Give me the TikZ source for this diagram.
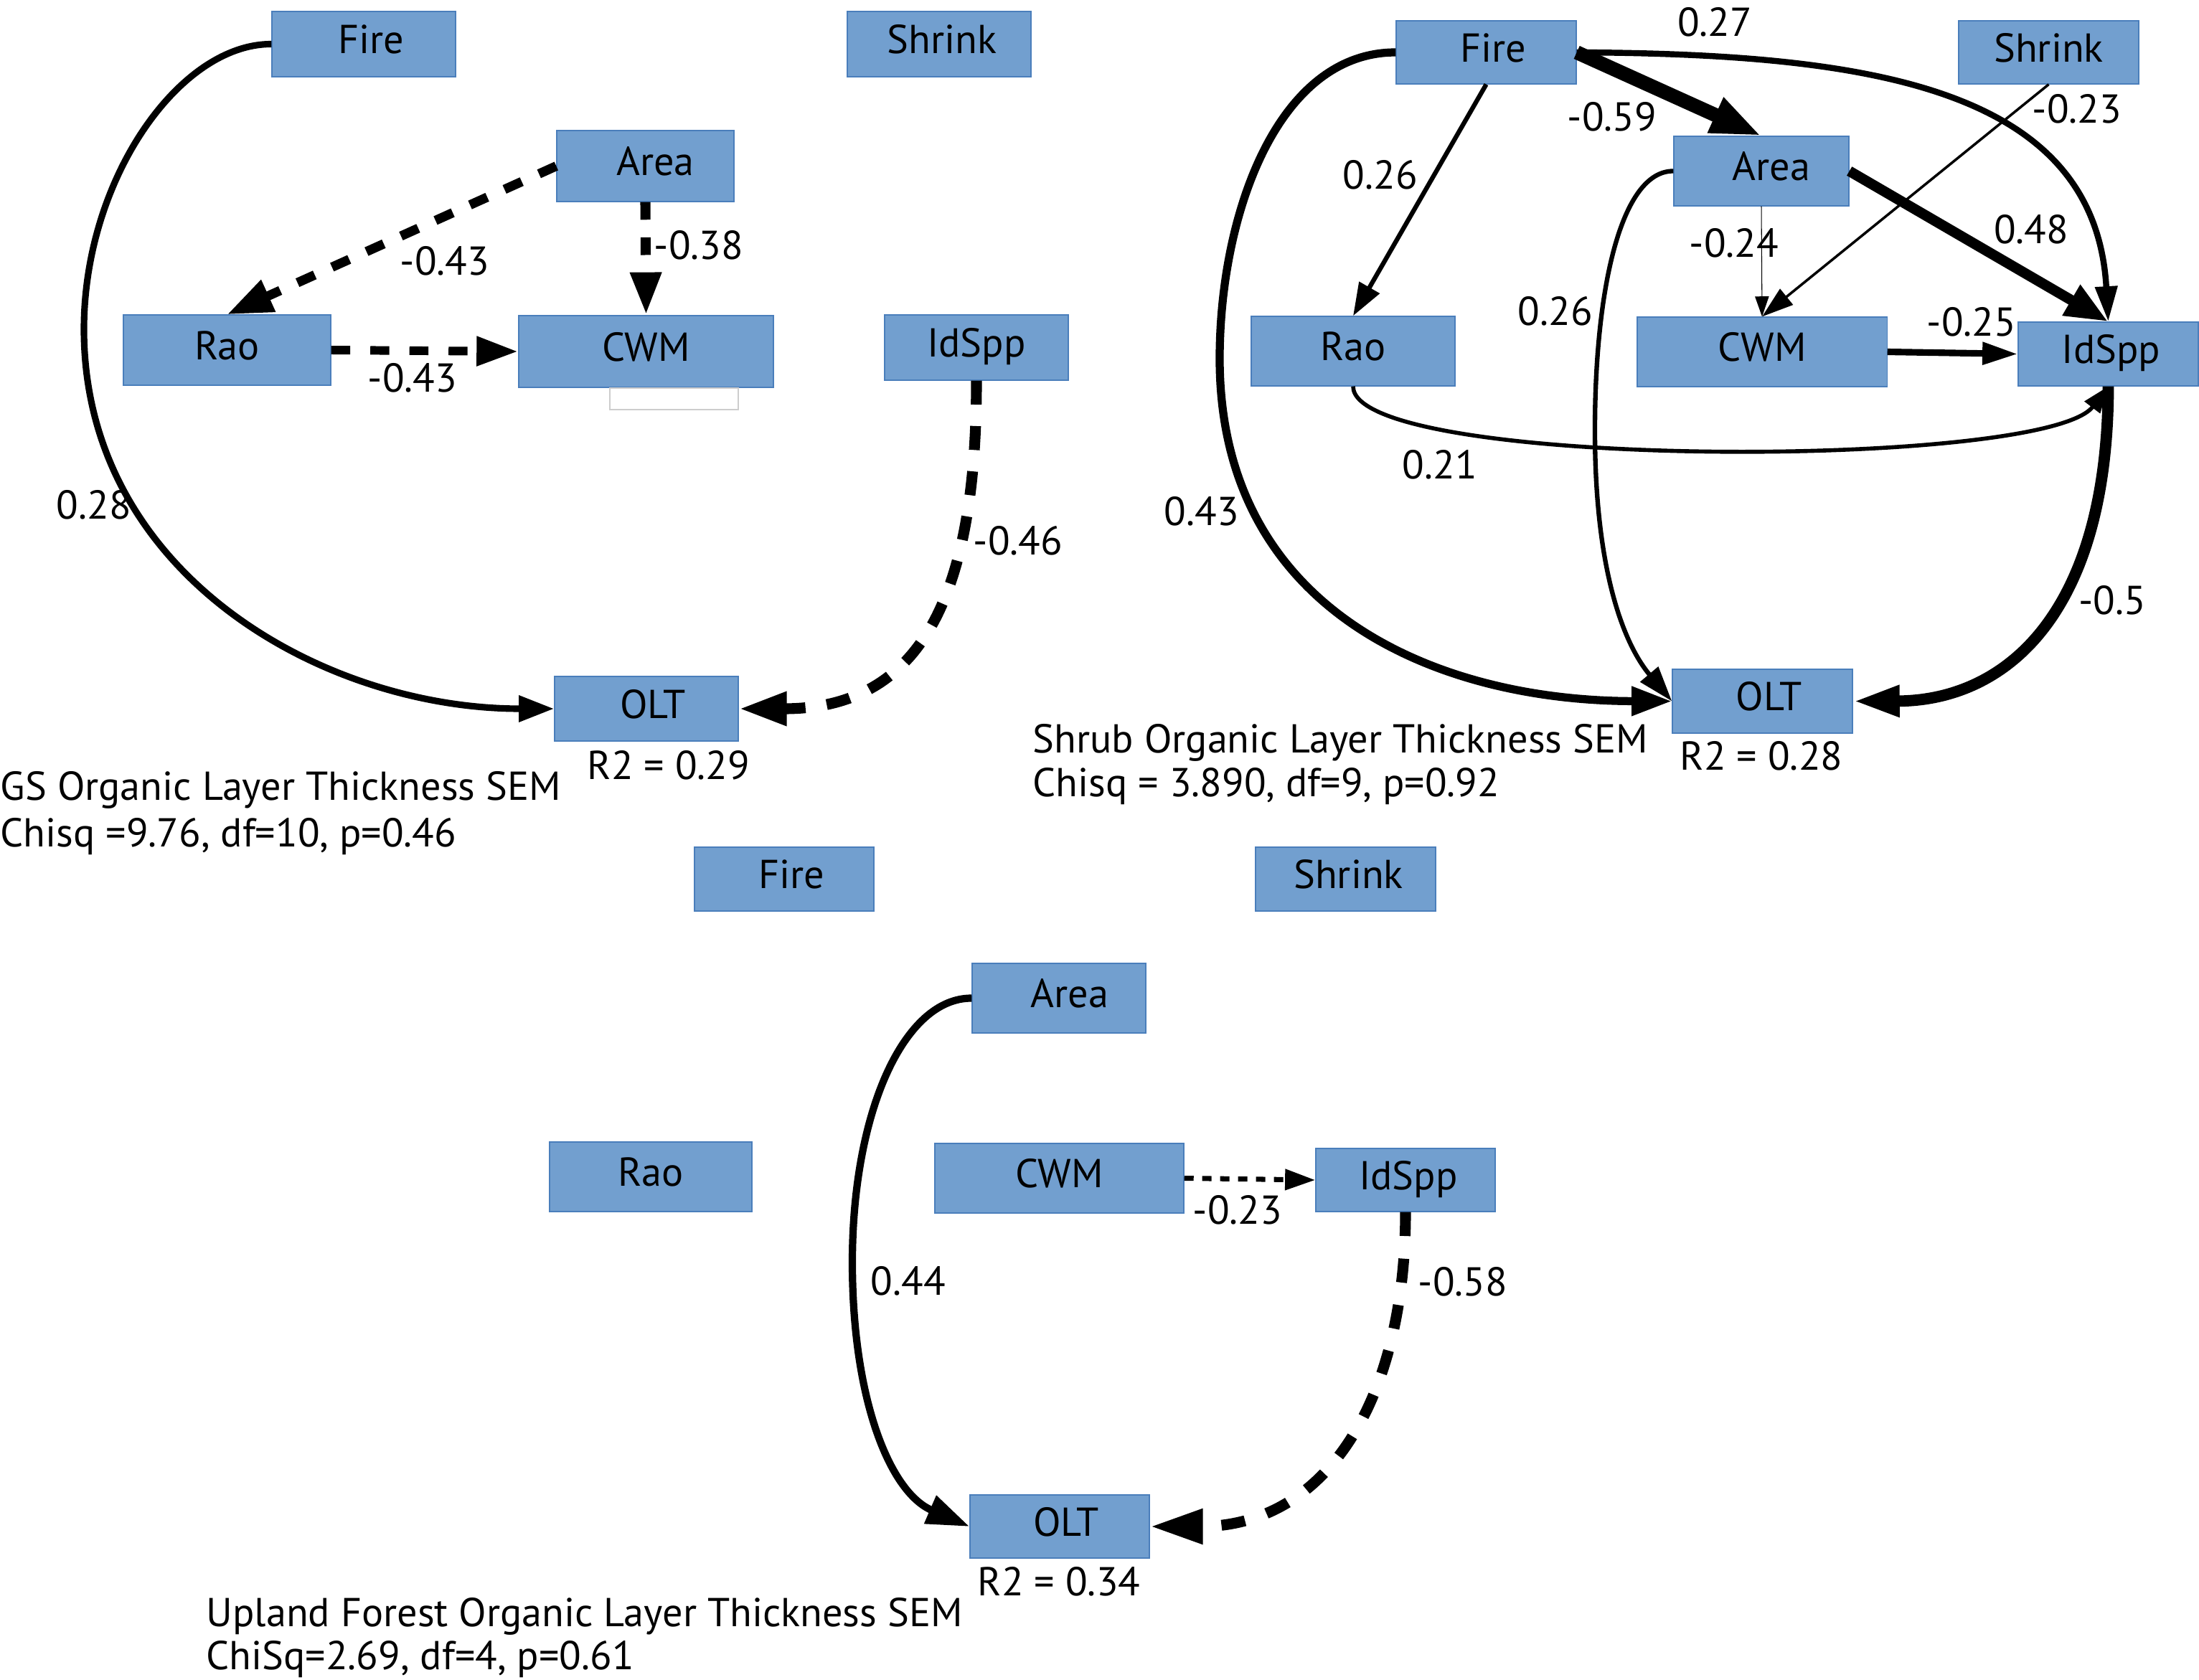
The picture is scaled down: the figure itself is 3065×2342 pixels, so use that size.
\documentclass[tikz,border=0pt]{standalone}
\usepackage{fontspec}
\setmainfont{PT Sans}
\usetikzlibrary{arrows.meta}
\definecolor{boxfill}{RGB}{114,159,207}
\definecolor{boxline}{RGB}{74,126,187}
\definecolor{ghost}{RGB}{205,205,205}
\begin{document}
\begin{tikzpicture}[x=0.01cm,y=-0.01cm,
  font=\fontsize{16pt}{19pt}\selectfont,
  box/.style={draw=boxline, fill=boxfill, line width=0.35pt, inner sep=0pt, text height=0.76em, text depth=0pt},
  tx/.style={execute at begin node={\hspace*{#1}}},
  lbl/.style={inner sep=0pt, text height=0.7em, text depth=0pt, yshift=-0.07cm},
  ttl/.style={lbl, anchor=west},
  tip/.style 2 args={-{Triangle[length=#1pt,width=#2pt]}},
  dsh/.style 2 args={dash pattern=on #1pt off #2pt},
  line cap=butt]
\useasboundingbox (0,0) rectangle (3065,2342);

% ---------------- Panel 1 : GS ----------------
\node[box, tx=0.2cm, minimum width=2.56cm, minimum height=0.91cm] (F1) at (507,61.5) {Fire};
\node[box, tx=0.08cm, minimum width=2.56cm, minimum height=0.91cm] (S1) at (1309,61.5) {Shrink};
\node[box, tx=0.28cm, minimum width=2.47cm, minimum height=0.99cm] (A1) at (899.5,231.5) {Area};
\node[box, minimum width=2.89cm, minimum height=0.98cm] (R1) at (316.5,488) {Rao};
\node[box, minimum width=3.55cm, minimum height=1.00cm] (C1) at (900.5,490) {CWM};
\node[draw=ghost, fill=white, line width=0.4pt, inner sep=0pt, minimum width=1.79cm, minimum height=0.30cm] (G1) at (939.5,556) {};
\node[box, minimum width=2.56cm, minimum height=0.91cm] (I1) at (1361,484.5) {IdSpp};
\node[box, tx=0.18cm, minimum width=2.56cm, minimum height=0.90cm] (O1) at (901,988) {OLT};
\node[lbl] (O1r) at (932,1067) {R2 = 0.29};

\draw[line width=2.6pt, tip={14}{10}] (F1.west) .. controls (250,61) and (117,250) .. (117,459)
  .. controls (117,800) and (450,988) .. (O1.west);
\draw[line width=3.7pt, dsh={7.5}{7.5}, tip={18}{13}] (A1.west) -- (R1.north);
\draw[line width=4pt, dsh={7}{7}, tip={17}{11.5}] (A1.south) -- (C1.north);
\draw[line width=3.4pt, dsh={7.5}{8}, tip={16.5}{11}] (R1.east) -- (C1.west);
\draw[line width=4.3pt, dsh={9.5}{8.5}, tip={19}{12.5}] (I1.south) .. controls (1361,820) and (1290,988) .. (O1.east);

\node[lbl] (l1a) at (131,704) {0.28};
\node[lbl] (l1b) at (620,364) {-0.43};
\node[lbl] (l1c) at (974,342) {-0.38};
\node[lbl] (l1d) at (575,527) {-0.43};
\node[lbl] (l1e) at (1419,754) {-0.46};

\node[ttl] (t1a) at (0,1096) {GS Organic Layer Thickness SEM};
\node[ttl] (t1b) at (0,1161) {Chisq =9.76, df=10, p=0.46};

% ---------------- Panel 2 : Shrub ----------------
\node[box, tx=0.2cm, minimum width=2.51cm, minimum height=0.88cm] (F2) at (2071.5,73) {Fire};
\node[box, minimum width=2.51cm, minimum height=0.88cm] (S2) at (2855.5,73) {Shrink};
\node[box, tx=0.28cm, minimum width=2.44cm, minimum height=0.97cm] (A2) at (2455,238.5) {Area};
\node[box, minimum width=2.84cm, minimum height=0.97cm] (R2) at (1886,489.5) {Rao};
\node[box, minimum width=3.48cm, minimum height=0.97cm] (C2) at (2456,490.5) {CWM};
\node[box, tx=0.08cm, minimum width=2.51cm, minimum height=0.89cm] (I2) at (2938.5,493.5) {IdSpp};
\node[box, tx=0.18cm, minimum width=2.51cm, minimum height=0.89cm] (O2) at (2456.5,977.5) {OLT};
\node[lbl] (O2r) at (2455,1054) {R2 = 0.28};

\draw[line width=5.6pt, tip={20}{14}] (F2.east) -- (A2.north);
\draw[line width=2.4pt, tip={14}{8.5}] (F2.east) .. controls (2600,75) and (2920,120) .. (I2.north);
\draw[line width=1.8pt, tip={13}{9}] (F2.south) -- (R2.north);
\draw[line width=3.2pt, tip={16}{11}] (F2.west) .. controls (1780,73) and (1700,300) .. (1700,500)
  .. controls (1700,850) and (2000,977) .. (O2.west);
\draw[line width=1pt, tip={12.5}{8}] (S2.south) -- (C2.north);
\draw[line width=0.3pt, tip={8}{5.5}] (A2.south) -- (C2.north);
\draw[line width=4.1pt, tip={17}{13}] (A2.east) -- (I2.north);
\draw[line width=1.8pt, tip={14}{9}] (A2.west) .. controls (2260,238) and (2223,400) .. (2223,600)
  .. controls (2223,800) and (2265,900) .. (O2.west);
\draw[line width=2.6pt, tip={14}{8.5}] (C2.east) -- (I2.west);
\draw[line width=1.6pt, tip={10.5}{7.5}] (R2.south) .. controls (1886,655) and (2850,655) .. (I2.south);
\draw[line width=4.5pt, tip={18.5}{11.5}] (I2.south) .. controls (2938,850) and (2800,977) .. (O2.east);

\node[lbl] (l2a) at (2390,31) {0.27};
\node[lbl] (l2b) at (2247,163) {-0.59};
\node[lbl] (l2c) at (2895,152) {-0.23};
\node[lbl] (l2d) at (1924,244) {0.26};
\node[lbl] (l2e) at (2831,320) {0.48};
\node[lbl] (l2f) at (2417,339) {-0.24};
\node[lbl] (l2g) at (2168,434) {0.26};
\node[lbl] (l2h) at (2748,449) {-0.25};
\node[lbl] (l2i) at (2007,648) {0.21};
\node[lbl] (l2j) at (1675,713) {0.43};
\node[lbl] (l2k) at (2944,837) {-0.5};

\node[ttl] (t2a) at (1439,1030) {Shrub Organic Layer Thickness SEM};
\node[ttl] (t2b) at (1439,1091) {Chisq = 3.890, df=9, p=0.92};

% ---------------- Panel 3 : Upland ----------------
\node[box, tx=0.2cm, minimum width=2.50cm, minimum height=0.89cm] (F3) at (1093,1225.5) {Fire};
\node[box, tx=0.08cm, minimum width=2.51cm, minimum height=0.89cm] (S3) at (1875.5,1225.5) {Shrink};
\node[box, tx=0.3cm, minimum width=2.42cm, minimum height=0.97cm] (A3) at (1476,1391.5) {Area};
\node[box, minimum width=2.82cm, minimum height=0.97cm] (R3) at (907,1640.5) {Rao};
\node[box, minimum width=3.47cm, minimum height=0.97cm] (C3) at (1476.5,1642.5) {CWM};
\node[box, tx=0.08cm, minimum width=2.50cm, minimum height=0.88cm] (I3) at (1959,1645) {IdSpp};
\node[box, tx=0.18cm, minimum width=2.50cm, minimum height=0.88cm] (O3) at (1477,2128) {OLT};
\node[lbl] (O3r) at (1476,2205) {R2 = 0.34};

\draw[line width=2.9pt, tip={17}{11.5}] (A3.west) .. controls (1260,1391) and (1188,1550) .. (1188,1760)
  .. controls (1188,1950) and (1240,2080) .. (O3.west);
\draw[line width=2pt, dsh={3.7}{3.4}, tip={12}{8}] (C3.east) -- (I3.west);
\draw[line width=4.3pt, dsh={9.5}{9}, tip={21}{13}] (I3.south) .. controls (1959,1950) and (1850,2128) .. (O3.east);

\node[lbl] (l3a) at (1725,1687) {-0.23};
\node[lbl] (l3b) at (1266,1786) {0.44};
\node[lbl] (l3c) at (2039,1787) {-0.58};

\node[ttl] (t3a) at (287,2248) {Upland Forest Organic Layer Thickness SEM};
\node[ttl] (t3b) at (287,2308) {ChiSq=2.69, df=4, p=0.61};
\end{tikzpicture}
\end{document}
